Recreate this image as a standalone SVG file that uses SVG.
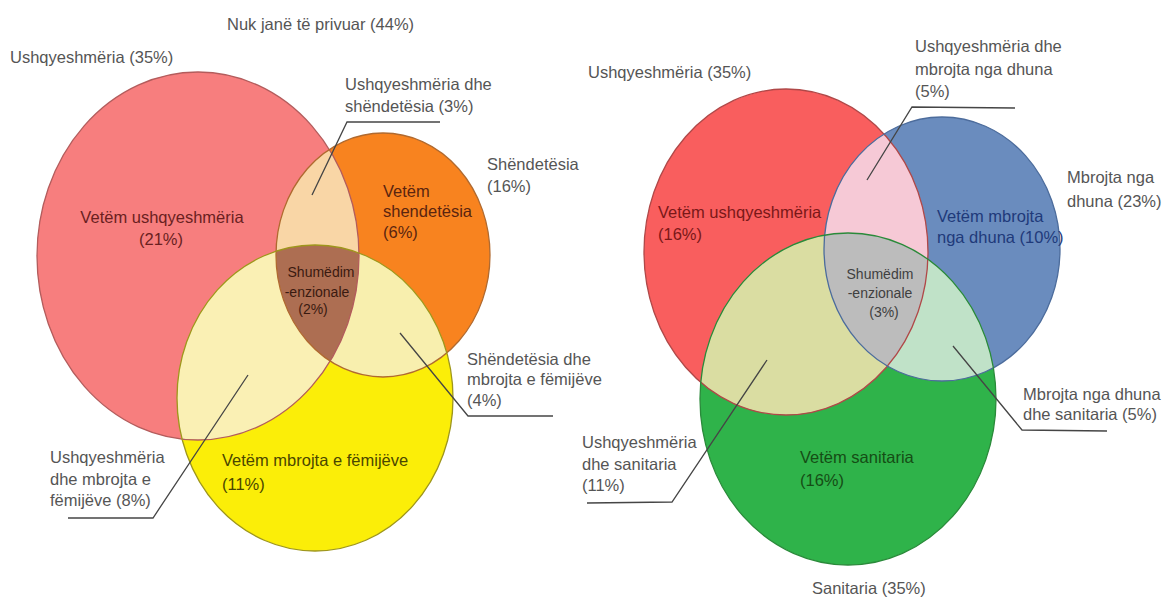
<svg xmlns="http://www.w3.org/2000/svg" width="1165" height="598" viewBox="0 0 1165 598">
<style>
text{font-family:"Liberation Sans",Arial,sans-serif;font-size:16.5px;fill:#555}
.sm{font-size:14px}
.mid{text-anchor:middle}
.outline{fill:none;stroke-width:1.3}
.lead{fill:none;stroke:#454545;stroke-width:1.3}
</style>
<defs>
<clipPath id="cLfood"><ellipse cx="198" cy="256" rx="161" ry="184"/></clipPath>
<clipPath id="cLhealth"><ellipse cx="383" cy="255" rx="107" ry="122"/></clipPath>
<clipPath id="cRfood"><ellipse cx="786" cy="252" rx="142" ry="163"/></clipPath>
<clipPath id="cRviol"><ellipse cx="942" cy="249" rx="118" ry="132"/></clipPath>
</defs>
<rect width="1165" height="598" fill="#fff"/>
<text id="title-left" x="227" y="30">Nuk janë të privuar (44%)</text>

<!-- LEFT DIAGRAM -->
<g id="left-food">
<ellipse cx="198" cy="256" rx="161" ry="184" fill="#F77E7E"/>
<text x="10" y="63">Ushqyeshmëria (35%)</text>
</g>
<g id="left-health">
<ellipse cx="383" cy="255" rx="107" ry="122" fill="#F8831F"/>
<text x="487" y="170">Shëndetësia</text>
<text x="487" y="192">(16%)</text>
</g>
<g id="left-child">
<ellipse cx="315" cy="398" rx="138" ry="153" fill="#FBEE08"/>
</g>
<g id="left-food-health">
<g clip-path="url(#cLfood)"><ellipse cx="383" cy="255" rx="107" ry="122" fill="#F9D6A6"/></g>
<text x="345" y="90">Ushqyeshmëria dhe</text>
<text x="345" y="112">shëndetësia (3%)</text>
</g>
<g id="left-food-child">
<g clip-path="url(#cLfood)"><ellipse cx="315" cy="398" rx="138" ry="153" fill="#FAF0B4"/></g>
<text x="50" y="463">Ushqyeshmëria</text>
<text x="50" y="485">dhe mbrojta e</text>
<text x="50" y="506">fëmijëve (8%)</text>
</g>
<g id="left-health-child">
<g clip-path="url(#cLhealth)"><ellipse cx="315" cy="398" rx="138" ry="153" fill="#F8EFAE"/></g>
<text x="467" y="365">Shëndetësia dhe</text>
<text x="467" y="385">mbrojta e fëmijëve</text>
<text x="467" y="406">(4%)</text>
</g>
<g id="left-all">
<g clip-path="url(#cLfood)"><g clip-path="url(#cLhealth)"><ellipse cx="315" cy="398" rx="138" ry="153" fill="#AD6E52"/></g></g>
</g>
<g id="left-outlines">
<ellipse class="outline" cx="198" cy="256" rx="161" ry="184" stroke="#B35C5C"/>
<ellipse class="outline" cx="383" cy="255" rx="107" ry="122" stroke="#B06A30"/>
<ellipse class="outline" cx="315" cy="398" rx="138" ry="153" stroke="#9E961C"/>
</g>
<g id="left-inner-labels">
<text class="mid" x="162" y="223" style="fill:#6A1F1F">Vetëm ushqyeshmëria</text>
<text class="mid" x="161" y="245" style="fill:#6A1F1F">(21%)</text>
<text x="383" y="197" style="fill:#5A2510">Vetëm</text>
<text x="383" y="217" style="fill:#5A2510">shendetësia</text>
<text x="383" y="238" style="fill:#5A2510">(6%)</text>
<text x="222" y="466" style="fill:#4A4600">Vetëm mbrojta e fëmijëve</text>
<text x="222" y="490" style="fill:#4A4600">(11%)</text>
<text class="sm mid" x="321" y="277" style="fill:#3A1A10">Shumëdim</text>
<text class="sm mid" x="317" y="297" style="fill:#3A1A10">-enzionale</text>
<text class="sm mid" x="313" y="314" style="fill:#3A1A10">(2%)</text>
</g>

<!-- RIGHT DIAGRAM -->
<g id="right-food">
<ellipse cx="786" cy="252" rx="142" ry="163" fill="#F95E5E"/>
<text x="588" y="78">Ushqyeshmëria (35%)</text>
</g>
<g id="right-violence">
<ellipse cx="942" cy="249" rx="118" ry="132" fill="#6A8CBE"/>
<text x="1067" y="183">Mbrojta nga</text>
<text x="1067" y="207">dhuna (23%)</text>
</g>
<g id="right-sanitation">
<ellipse cx="848" cy="399" rx="148" ry="166" fill="#2FB34A"/>
<text x="812" y="594">Sanitaria (35%)</text>
</g>
<g id="right-food-violence">
<g clip-path="url(#cRfood)"><ellipse cx="942" cy="249" rx="118" ry="132" fill="#F6C9D6"/></g>
<text x="915" y="52">Ushqyeshmëria dhe</text>
<text x="915" y="75">mbrojta nga dhuna</text>
<text x="915" y="97">(5%)</text>
</g>
<g id="right-food-sanitation">
<g clip-path="url(#cRfood)"><ellipse cx="848" cy="399" rx="148" ry="166" fill="#DADDA2"/></g>
<text x="582" y="448">Ushqyeshmëria</text>
<text x="582" y="470">dhe sanitaria</text>
<text x="582" y="491">(11%)</text>
</g>
<g id="right-violence-sanitation">
<g clip-path="url(#cRviol)"><ellipse cx="848" cy="399" rx="148" ry="166" fill="#C0E2C8"/></g>
<text x="1023" y="400">Mbrojta nga dhuna</text>
<text x="1023" y="420">dhe sanitaria (5%)</text>
</g>
<g id="right-all">
<g clip-path="url(#cRfood)"><g clip-path="url(#cRviol)"><ellipse cx="848" cy="399" rx="148" ry="166" fill="#BCBCBC"/></g></g>
</g>
<g id="right-outlines">
<ellipse class="outline" cx="786" cy="252" rx="142" ry="163" stroke="#B04848"/>
<ellipse class="outline" cx="942" cy="249" rx="118" ry="132" stroke="#4C6C9C"/>
<ellipse class="outline" cx="848" cy="399" rx="148" ry="166" stroke="#2A8A3A"/>
</g>
<g id="right-inner-labels">
<text x="658" y="218" style="fill:#7A1818">Vetëm ushqyeshmëria</text>
<text x="658" y="240" style="fill:#7A1818">(16%)</text>
<text x="937" y="222" style="fill:#1F3A7A">Vetëm mbrojta</text>
<text x="937" y="243" style="fill:#1F3A7A">nga dhuna (10%)</text>
<text x="800" y="463" style="fill:#154D15">Vetëm sanitaria</text>
<text x="800" y="486" style="fill:#154D15">(16%)</text>
<text class="sm mid" x="880" y="279" style="fill:#404040">Shumëdim</text>
<text class="sm mid" x="880" y="298" style="fill:#404040">-enzionale</text>
<text class="sm mid" x="884" y="317" style="fill:#404040">(3%)</text>
</g>

<g id="connectors">
<polyline class="lead" points="440,122 347,122 312,195"/>
<polyline class="lead" points="400,333 468,416 553,416"/>
<polyline class="lead" points="248,375 153,518 68,518"/>
<polyline class="lead" points="867,180 912,107 1015,108"/>
<polyline class="lead" points="953,346 1022,430 1107,431"/>
<polyline class="lead" points="767,360 672,502 587,503"/>
</g>
</svg>
